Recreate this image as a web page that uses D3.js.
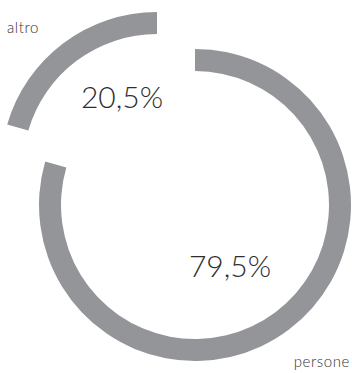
<!DOCTYPE html>
<html>
<head>
<meta charset="utf-8">
<script src="https://cdn.jsdelivr.net/npm/d3@7"></script>
<style>
  html, body { margin: 0; padding: 0; background: #fff; }
  svg { display: block; }
  .pct { font-family: Lato, "Open Sans", sans-serif; font-weight: 300; fill: #2e2e2e; }
  .lbl { font-family: Lato, "Open Sans", sans-serif; font-weight: 300; fill: #333; letter-spacing: 0.6px; }
</style>
</head>
<body>
<script>
// Share of the two groups, in percent
const categories = ["persone", "altro"];
const values = [79.5, 20.5];
const colors = ["#939598", "#939598"];

const width = 352, height = 373;
const outerR = 156, innerR = 134;
const center = [195, 205];
// the smaller slice is pulled away from the ring
const explode = [[0, 0], [-38, -37]];

const svg = d3.select("body").append("svg")
  .attr("width", width).attr("height", height);

const pie = d3.pie().sort(null).value(d => d.value).startAngle(0).endAngle(2 * Math.PI);
const arcs = pie(categories.map((c, i) => ({ name: c, value: values[i] })));
const arc = d3.arc().innerRadius(innerR).outerRadius(outerR);

const fmt = v => d3.format(".1f")(v).replace(".", ",") + "%";

const g = svg.selectAll("g.slice").data(arcs).join("g")
  .attr("class", "slice")
  .attr("transform", (d, i) => `translate(${center[0] + explode[i][0]},${center[1] + explode[i][1]})`);

g.append("path").attr("d", arc).attr("fill", (d, i) => colors[i]);

// value labels inside each slice
const pctPos = [[35, 72], [-35, -60]];
g.append("text").attr("class", "pct")
  .attr("x", (d, i) => pctPos[i][0]).attr("y", (d, i) => pctPos[i][1])
  .attr("text-anchor", "middle")
  .style("font-size", "30px")
  .text(d => fmt(d.value));

// category names
svg.append("text").attr("class", "lbl")
  .attr("x", 7).attr("y", 33).style("font-size", "15px").text(categories[1]);
svg.append("text").attr("class", "lbl")
  .attr("x", 350).attr("y", 367).attr("text-anchor", "end").style("font-size", "15px").text(categories[0]);
</script>
</body>
</html>
